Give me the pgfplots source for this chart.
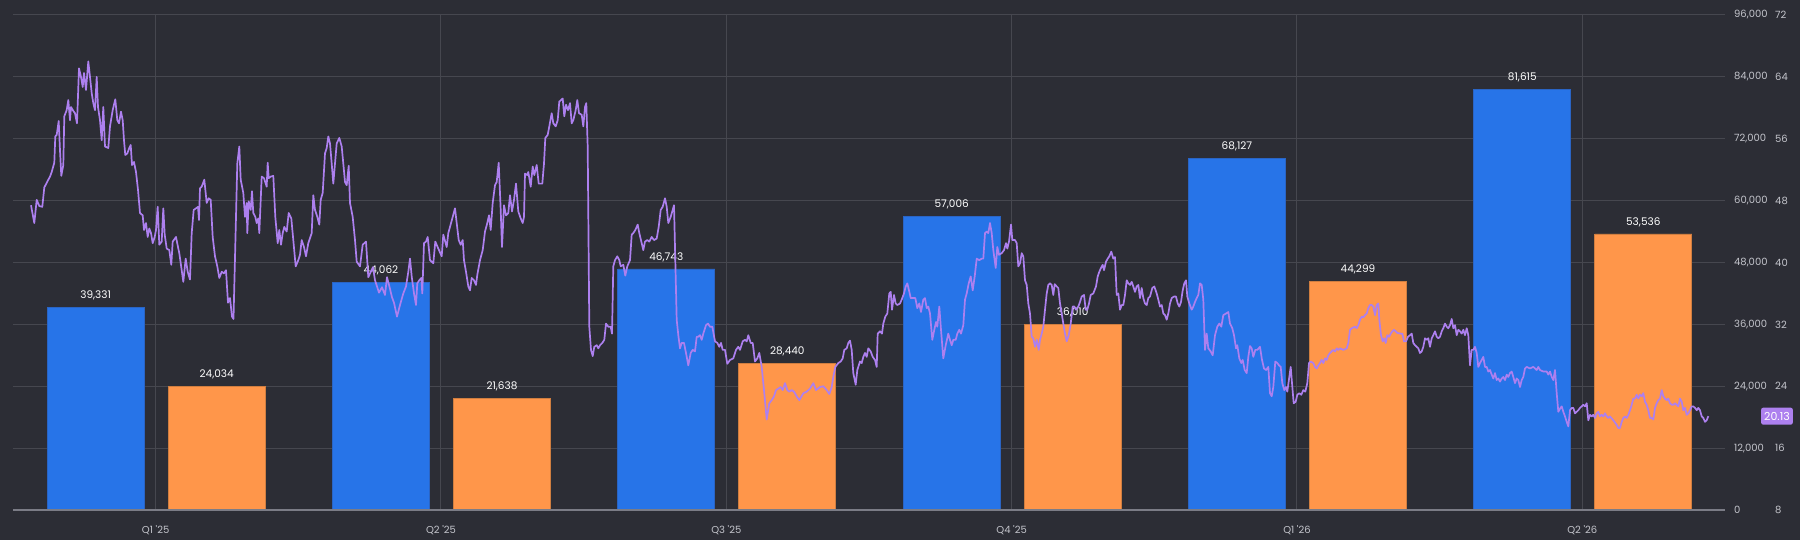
\documentclass[border=0pt]{standalone}
\usepackage{fontspec}
\setmainfont{Poppins}
\usepackage{pgfplots}
\usepackage{pgfplotstable}
\pgfplotsset{compat=1.18}

\definecolor{bg}{HTML}{2C2D35}
\definecolor{gridcol}{HTML}{46474F}
\definecolor{tickcol}{HTML}{C4C5CC}
\definecolor{basecol}{HTML}{7B7C86}
\definecolor{barblue}{HTML}{2774E8}
\definecolor{blueedge}{HTML}{2A64C4}
\definecolor{barorange}{HTML}{FF964A}
\definecolor{orangeedge}{HTML}{D07E40}
\definecolor{ratiopurple}{HTML}{AD80EF}

\pgfkeys{/pgf/number format/assume math mode=true}

% quarterly bars (left scale)
\pgfplotstableread{
q blue orange
0 39331 24034
1 44062 21638
2 46743 28440
3 57006 36010
4 68127 44299
5 81615 53536
}\quarters

% daily line (right scale), x = position along the time axis
\pgfplotstableread[row sep=\\]{
x v\\
31 47.4\\ 34.3 45.1\\ 36.7 48.1\\ 39.3 47.3\\ 42.3 47.2\\ 44.3 49.7\\ 48.3 50.7\\ 50 51.1\\ 51.7 51.7\\ 54.3 52.9\\
55.3 56.3\\ 56.7 56.5\\ 58.7 58.3\\ 60 54.5\\ 61.3 51.2\\ 63.3 52.6\\ 64.3 58.9\\ 66.7 59.7\\ 68.3 61.0\\ 70 58.4\\
71 60.1\\ 73.3 59.6\\ 75 59.3\\ 77 58.0\\ 79 65.1\\ 81 64.0\\ 82.7 62.7\\ 84 64.5\\ 86 62.3\\ 88.3 66.0\\
90 64.0\\ 91.7 61.9\\ 93.3 60.6\\ 95 59.7\\ 96.7 64.0\\ 98 60.1\\ 100 58.4\\ 101.7 55.8\\ 103.3 60.1\\ 105 55.0\\
108.3 54.8\\ 110 57.6\\ 112.7 59.7\\ 115.3 61.1\\ 117.3 58.4\\ 119 58.0\\ 121 59.5\\ 122.7 58.4\\ 124 55.8\\ 125.3 53.9\\
127.3 54.1\\ 129.3 54.8\\ 130.7 55.2\\ 132 52.6\\ 134 53.0\\ 136 51.7\\ 138 49.4\\ 140 46.4\\ 142.7 46.1\\ 144 44.2\\
146 45.1\\ 147.7 43.3\\ 149.3 44.4\\ 151 43.8\\ 152.7 42.5\\ 154.7 43.3\\ 156 44.2\\ 157.7 47.2\\ 159.3 42.3\\ 161.7 42.7\\
163.3 47.0\\ 164.7 43.6\\ 166.7 41.8\\ 169.3 41.6\\ 171.3 39.7\\ 172.7 42.7\\ 176 43.3\\ 178 42.0\\ 179.3 41.2\\ 181.7 39.0\\
183.3 37.5\\ 185.7 40.5\\ 187.7 38.8\\ 190 37.8\\ 191.7 43.8\\ 193.7 46.8\\ 196 47.0\\ 198 47.2\\ 199 45.5\\ 200 49.6\\
201.7 49.8\\ 204.3 50.7\\ 206.7 47.7\\ 208.7 48.3\\ 210.7 48.1\\ 212.7 43.3\\ 215 40.8\\ 217.3 39.5\\ 219.3 38.0\\ 221.7 38.8\\
224 38.6\\ 226 39.0\\ 228 34.8\\ 230 35.4\\ 232 33.0\\ 233.5 32.7\\ 237.3 52.8\\ 239.3 55.0\\ 240.7 50.7\\ 243.3 49.0\\
245 45.9\\ 246.7 47.7\\ 247.3 43.8\\ 248.7 47.9\\ 250.7 46.8\\ 252 49.2\\ 253.3 46.4\\ 255.3 45.9\\ 256.7 45.1\\ 258.3 45.7\\
259.3 43.8\\ 261.7 51.1\\ 264 50.9\\ 266.7 49.8\\ 267.7 52.9\\ 268.7 50.9\\ 270.7 51.1\\ 273.3 51.2\\ 275.3 45.9\\ 277.7 42.5\\
279.3 44.2\\ 281 42.3\\ 282.7 43.8\\ 284.3 44.6\\ 286.7 44.0\\ 288.7 46.4\\ 291.3 45.7\\ 293.3 42.9\\ 295.7 39.5\\ 298.3 40.3\\
300 41.0\\ 301.7 42.9\\ 304 42.0\\ 306 40.8\\ 308.3 42.5\\ 311.7 43.8\\ 313.3 48.7\\ 315 46.8\\ 317.3 45.9\\ 319.3 44.9\\
320.7 48.1\\ 322.7 49.0\\ 325 54.1\\ 326.7 54.8\\ 328.3 56.3\\ 330 55.4\\ 331.7 52.8\\ 333.3 50.2\\ 335 52.8\\ 336.7 55.4\\
339.3 56.1\\ 341.7 55.0\\ 343.3 52.8\\ 345 50.4\\ 346.7 50.0\\ 348.7 52.5\\ 350 47.7\\ 352.7 45.9\\ 355 42.9\\ 356.7 40.1\\
360 39.5\\ 362.7 42.3\\ 366 42.7\\ 368.3 38.1\\ 373 39.4\\ 375 37.7\\ 379 36.1\\ 382 36.8\\ 385 35.8\\ 387 38.1\\
389.6 36.8\\ 392 35.5\\ 394 34.8\\ 397 33.0\\ 400 34.5\\ 403.3 36.0\\ 406 36.9\\ 408.3 38.8\\ 410 40.5\\ 411.7 38.2\\
414 36.0\\ 416 34.5\\ 417.3 37.3\\ 419.3 37.7\\ 421.3 38.0\\ 422.3 36.0\\ 424 42.5\\ 426 42.7\\ 427.7 43.3\\ 430 40.3\\
433.3 39.9\\ 435.3 42.7\\ 438.3 41.8\\ 441.7 40.8\\ 443.3 43.6\\ 446.7 42.0\\ 448.3 43.8\\ 450 44.6\\ 452.3 45.7\\ 455 47.0\\
456.7 45.1\\ 458.7 42.9\\ 460.7 42.3\\ 462.7 42.9\\ 464 40.3\\ 466 38.8\\ 468.3 36.9\\ 470 36.4\\ 471.7 38.0\\ 474 37.7\\
476 37.1\\ 477.3 38.4\\ 480 40.3\\ 482.7 41.6\\ 485 44.0\\ 487.3 45.1\\ 489 46.1\\ 490.7 44.2\\ 492.7 47.7\\ 495 50.0\\
496.7 50.4\\ 498.7 52.9\\ 500.7 46.8\\ 502 42.0\\ 504 47.4\\ 506 46.1\\ 508.3 46.4\\ 510 48.7\\ 512 46.6\\ 514 48.1\\
516 50.2\\ 518.3 46.6\\ 520.7 45.7\\ 522.7 45.1\\ 524 45.9\\ 525 51.5\\ 527.3 51.3\\ 528.3 51.7\\ 530.7 49.8\\ 532.7 52.4\\
534.3 51.3\\ 536.7 52.6\\ 538.7 50.2\\ 542.3 50.2\\ 544 52.8\\ 545.3 56.1\\ 547.7 56.5\\ 549.3 57.6\\ 551.7 59.3\\ 553.3 58.0\\
555.7 57.6\\ 557.7 58.4\\ 559.3 60.8\\ 561 61.0\\ 562.7 61.2\\ 564.3 58.9\\ 566 60.4\\ 568 59.7\\ 570 60.6\\ 571.7 58.0\\
573.3 58.4\\ 575.7 59.7\\ 577.3 61.0\\ 579 59.3\\ 581.7 59.1\\ 583.3 57.6\\ 585 60.1\\ 586.3 60.6\\ 587.7 55.0\\ 589.3 31.7\\
591 28.7\\ 592.7 27.9\\ 594.3 29.1\\ 596.7 29.3\\ 598.3 28.9\\ 600 29.3\\ 602.3 29.6\\ 604.3 30.0\\ 606 32.1\\ 608.3 31.7\\
610.7 31.7\\ 612 30.8\\ 613.3 39.5\\ 615 40.3\\ 617.3 40.8\\ 619.3 40.3\\ 620.7 39.5\\ 623.3 39.7\\ 625.3 38.3\\ 627.3 39.5\\
630 40.3\\ 631.7 43.6\\ 633.3 43.8\\ 635.3 44.2\\ 637.7 44.9\\ 639.3 43.8\\ 641.7 42.5\\ 643.3 41.6\\ 645 42.7\\ 647.3 42.9\\
649.3 42.7\\ 651.7 43.3\\ 654 42.9\\ 656.7 43.1\\ 658.7 44.6\\ 660.7 46.8\\ 662.7 47.2\\ 665 48.3\\ 666.7 47.2\\ 668.3 45.1\\
670.7 45.9\\ 672.7 46.8\\ 674 47.4\\ 675.3 40.3\\ 676.7 32.6\\ 678.3 30.6\\ 680 28.9\\ 681.7 29.6\\ 684 29.6\\ 686 28.3\\
688.3 26.7\\ 690.7 28.3\\ 692.7 28.7\\ 695 28.5\\ 696.7 30.4\\ 698.3 30.4\\ 700 30.6\\ 701.7 30.0\\ 703.3 30.8\\ 706 31.9\\
708 32.1\\ 710 31.7\\ 712.3 31.7\\ 715 29.8\\ 717.3 29.6\\ 719.3 29.1\\ 721 29.6\\ 722.7 28.7\\ 725 28.7\\ 727.3 26.9\\
730 27.4\\ 733.3 27.6\\ 736 28.7\\ 738.3 29.1\\ 740 28.7\\ 742.7 29.8\\ 745 30.0\\ 746.7 29.8\\ 748.3 30.6\\ 750.7 29.6\\
752.7 29.6\\ 755 27.2\\ 757.3 27.6\\ 759.3 28.3\\ 761.7 26.5\\ 764 23.5\\ 766.7 19.7\\ 769.3 21.8\\ 771.7 22.2\\ 774 22.7\\
776 23.5\\ 778.3 23.7\\ 780.7 23.9\\ 782.7 23.5\\ 785 24.4\\ 787.3 23.5\\ 789.3 23.3\\ 791.7 23.5\\ 794 23.3\\ 796.7 22.7\\
799.3 22.2\\ 803.3 23.1\\ 806.7 23.3\\ 810 23.7\\ 813.3 24.4\\ 816 23.5\\ 820 23.9\\ 823.3 24.0\\ 826.7 23.5\\ 829.3 23.0\\
831.7 23.9\\ 833.3 25.2\\ 835.3 26.5\\ 838.3 27.0\\ 840.7 27.2\\ 842.7 27.6\\ 844.3 28.7\\ 846.7 28.9\\ 848.3 29.6\\ 850 29.9\\
851.7 28.7\\ 853.3 25.7\\ 855.7 24.2\\ 857.3 26.1\\ 860 27.2\\ 861.7 27.0\\ 863.3 27.8\\ 865 28.3\\ 866.7 27.8\\ 868.3 28.9\\
870.7 28.5\\ 872.7 27.8\\ 875 27.4\\ 876.7 26.5\\ 877.7 30.8\\ 880 31.1\\ 882 30.8\\ 883.3 32.1\\ 885.3 33.0\\ 887.3 33.4\\
889.3 36.0\\ 890.7 36.2\\ 892 33.9\\ 894 35.8\\ 895.7 34.7\\ 897.3 34.5\\ 900 34.7\\ 901.7 35.2\\ 904 36.0\\ 905.7 36.9\\
907.3 37.3\\ 909 36.4\\ 910.7 35.4\\ 913.3 35.4\\ 915.3 35.4\\ 917.3 34.1\\ 919.3 34.7\\ 921 33.6\\ 923.3 35.2\\ 925 35.4\\
926.7 34.1\\ 928.3 34.3\\ 930 33.4\\ 932.3 30.0\\ 934.3 31.3\\ 936 32.3\\ 937.3 31.7\\ 939.3 34.3\\ 941 31.3\\ 943.3 27.6\\
945.7 29.3\\ 948.3 30.8\\ 950 30.0\\ 951.7 29.3\\ 953.3 30.0\\ 955.7 30.0\\ 957.3 30.8\\ 959.3 31.3\\ 961 30.8\\ 963.3 31.9\\
965 35.2\\ 966.7 36.0\\ 968.7 37.3\\ 970.7 38.2\\ 972.7 36.4\\ 974.7 38.2\\ 976.7 40.5\\ 979.3 40.3\\ 981.7 40.5\\ 983.3 40.5\\
985 43.8\\ 986.7 44.0\\ 988.3 43.8\\ 990 45.1\\ 991.7 43.8\\ 993.3 41.6\\ 995.7 39.3\\ 997.3 42.0\\ 999 41.0\\ 1001.7 41.2\\
1004 41.6\\ 1006 42.5\\ 1007.3 41.8\\ 1009 42.7\\ 1011 44.9\\ 1012.3 42.9\\ 1015 42.9\\ 1016.7 42.5\\ 1018.3 39.5\\ 1020 39.9\\
1021.7 41.2\\ 1023.3 40.8\\ 1025 37.7\\ 1026.7 37.1\\ 1028.3 34.7\\ 1030 33.4\\ 1031.7 30.4\\ 1033.3 30.2\\ 1035 29.1\\ 1036.7 30.0\\
1038.7 28.7\\ 1040 30.0\\ 1041.7 30.8\\ 1043.3 31.7\\ 1045 33.9\\ 1046.7 36.0\\ 1048.3 37.1\\ 1050 37.3\\ 1051.7 37.1\\ 1053.3 35.8\\
1054.7 37.2\\ 1056.7 36.9\\ 1058.3 36.7\\ 1060 34.7\\ 1061.7 33.4\\ 1063.3 32.1\\ 1065 30.8\\ 1066.7 29.8\\ 1068.7 30.6\\ 1070.7 32.1\\
1072.7 34.3\\ 1074.3 34.3\\ 1076 33.9\\ 1078.3 34.3\\ 1080 34.9\\ 1081.7 35.6\\ 1084 35.8\\ 1085.7 33.9\\ 1087.3 33.9\\ 1089 34.7\\
1090.7 35.8\\ 1093.3 36.0\\ 1096 36.9\\ 1097.7 38.2\\ 1099.3 38.8\\ 1101 39.3\\ 1102.7 39.7\\ 1104 39.0\\ 1106 40.1\\ 1107.7 40.5\\
1109.3 40.8\\ 1111.3 41.4\\ 1113.3 40.5\\ 1115 40.7\\ 1116.7 35.8\\ 1118.3 36.0\\ 1120 33.9\\ 1121.7 34.5\\ 1123.3 34.5\\ 1125 35.8\\
1126.7 37.7\\ 1128.3 37.3\\ 1130 37.1\\ 1131.7 37.5\\ 1133.3 36.9\\ 1135 36.2\\ 1136.7 36.9\\ 1138.3 37.1\\ 1140 35.4\\ 1141.7 36.7\\
1143.3 35.4\\ 1145 34.7\\ 1146.7 34.5\\ 1148.3 35.4\\ 1150 35.6\\ 1152.3 36.7\\ 1154.3 36.9\\ 1156.7 36.0\\ 1158.3 35.2\\ 1160 34.3\\
1161.7 34.5\\ 1163.3 33.4\\ 1165 33.2\\ 1166.7 32.6\\ 1168.3 33.4\\ 1170 34.7\\ 1171.7 35.4\\ 1174 35.6\\ 1176 35.6\\ 1177.7 34.7\\
1179.3 34.3\\ 1181 34.9\\ 1182.7 36.4\\ 1184.3 37.3\\ 1186 37.7\\ 1187.3 35.6\\ 1189.3 34.7\\ 1191.7 33.9\\ 1193.3 34.3\\ 1195 34.9\\
1196.7 35.4\\ 1198.3 35.8\\ 1200 37.3\\ 1201.7 37.1\\ 1203.3 35.2\\ 1205 28.7\\ 1206.7 30.8\\ 1208.3 28.9\\ 1210.7 28.5\\ 1212.7 28.0\\
1215 30.6\\ 1217.3 31.7\\ 1219.3 32.1\\ 1221.3 31.7\\ 1223.3 33.2\\ 1226 33.4\\ 1228.3 33.6\\ 1230 32.1\\ 1232.3 31.5\\ 1234 30.6\\
1236 28.9\\ 1237.3 29.3\\ 1239.3 27.6\\ 1241.3 27.0\\ 1242.7 27.4\\ 1244.7 26.1\\ 1246.7 25.7\\ 1248.3 27.8\\ 1250 29.2\\ 1251.7 28.9\\
1253.3 27.8\\ 1255.3 28.7\\ 1257.3 28.7\\ 1260 29.1\\ 1262 27.4\\ 1264 26.3\\ 1266 26.1\\ 1268.3 26.5\\ 1270 23.1\\ 1271.7 22.7\\
1273.3 23.9\\ 1275.3 27.2\\ 1277.3 27.0\\ 1279 26.7\\ 1280.7 26.5\\ 1282.3 24.4\\ 1284.3 23.5\\ 1286 23.9\\ 1287.3 23.3\\ 1289.3 25.2\\
1290.7 26.5\\ 1292 24.4\\ 1293.7 21.8\\ 1295.7 22.0\\ 1297.3 22.9\\ 1299.3 23.1\\ 1301.3 22.9\\ 1303.3 23.5\\ 1305.3 23.3\\ 1307.3 24.4\\
1309 27.0\\ 1310.7 27.2\\ 1313.3 27.0\\ 1315 26.5\\ 1316.7 26.3\\ 1318.3 26.7\\ 1320 27.0\\ 1321.7 27.4\\ 1323.3 27.0\\ 1325 27.6\\
1326.7 27.4\\ 1328.3 28.0\\ 1330 28.3\\ 1331.7 28.5\\ 1333.3 28.7\\ 1335 28.5\\ 1336.7 28.9\\ 1338.3 28.7\\ 1340 28.9\\ 1343.3 28.7\\
1346.7 28.9\\ 1348.3 29.6\\ 1350 31.3\\ 1351.7 31.5\\ 1355 31.7\\ 1356.7 31.5\\ 1358.3 31.9\\ 1360 32.6\\ 1361.7 33.0\\ 1363.3 32.9\\
1365 33.2\\ 1366.7 33.4\\ 1368.3 34.1\\ 1370 34.5\\ 1371.7 34.5\\ 1373.3 34.3\\ 1375 33.2\\ 1376.7 34.5\\ 1378.3 34.7\\ 1379.3 32.6\\
1381 30.6\\ 1382.7 29.8\\ 1384.3 30.2\\ 1385.7 29.6\\ 1387.3 30.6\\ 1389 30.4\\ 1390.7 30.8\\ 1392.3 31.1\\ 1394 31.3\\ 1397.3 30.9\\
1400.7 30.8\\ 1402.3 30.8\\ 1404 29.8\\ 1406 29.8\\ 1408 30.4\\ 1410 30.6\\ 1411.7 30.8\\ 1413.3 29.6\\ 1415 29.3\\ 1416.7 29.1\\
1418.3 28.9\\ 1420 28.3\\ 1421.7 28.5\\ 1423.3 29.1\\ 1425 30.2\\ 1426.7 30.0\\ 1428.3 30.2\\ 1430 29.1\\ 1431.7 30.2\\ 1433.3 30.6\\
1435 31.1\\ 1436.7 30.4\\ 1438.3 30.2\\ 1440 30.4\\ 1441.7 31.1\\ 1443.3 31.5\\ 1445 32.1\\ 1446.7 31.7\\ 1448.3 31.5\\ 1450 31.9\\
1451.7 32.7\\ 1453.3 31.5\\ 1455 31.9\\ 1456.7 30.6\\ 1458.3 31.3\\ 1460 31.1\\ 1461.7 30.8\\ 1463.3 31.3\\ 1465 30.6\\ 1466.7 31.5\\
1468.3 30.6\\ 1470 26.7\\ 1471.7 28.7\\ 1473.3 28.7\\ 1475 29.1\\ 1476.7 28.3\\ 1478.3 26.5\\ 1480 27.0\\ 1481.7 27.4\\ 1483.3 27.8\\
1485 26.5\\ 1486.7 26.5\\ 1488.3 25.9\\ 1490 26.1\\ 1491.7 25.5\\ 1493.3 25.0\\ 1495 25.7\\ 1496.7 24.8\\ 1498.3 25.0\\ 1500 24.6\\
1501.7 25.0\\ 1503.3 25.2\\ 1505 24.8\\ 1506.7 25.5\\ 1508.3 25.2\\ 1510 25.7\\ 1511.7 25.9\\ 1513.3 25.2\\ 1515 24.4\\ 1516.7 25.0\\
1518.3 24.8\\ 1520 23.9\\ 1521.7 24.8\\ 1523.3 25.2\\ 1525 26.3\\ 1526.7 26.5\\ 1530 26.3\\ 1533.3 26.5\\ 1536.7 26.1\\ 1538.3 26.5\\
1540 26.1\\ 1543.3 25.9\\ 1546.7 25.9\\ 1548.3 25.5\\ 1550 25.9\\ 1551.7 25.2\\ 1553.3 24.8\\ 1555 26.1\\ 1556.7 23.1\\ 1558.3 20.7\\
1560 21.1\\ 1561.7 21.4\\ 1563.3 20.7\\ 1565 20.1\\ 1566.7 19.4\\ 1568.3 18.8\\ 1570 20.9\\ 1571.7 21.2\\ 1573.3 21.2\\ 1575 20.5\\
1576.7 20.7\\ 1578.3 20.9\\ 1580 21.2\\ 1581.7 21.4\\ 1583.3 21.6\\ 1585 21.4\\ 1586.7 21.8\\ 1588.3 19.6\\ 1590 20.3\\ 1591.7 20.1\\
1593.3 20.3\\ 1595 19.9\\ 1596.7 20.5\\ 1598.3 20.7\\ 1600 20.1\\ 1601.7 20.3\\ 1603.3 20.1\\ 1605 20.5\\ 1606.7 20.1\\ 1608.3 19.9\\
1610 20.1\\ 1613.3 19.6\\ 1616.7 19.0\\ 1618.3 18.6\\ 1620 18.6\\ 1621.7 19.4\\ 1623.3 19.9\\ 1625 20.1\\ 1626.7 19.9\\ 1628.3 20.3\\
1630 20.9\\ 1631.7 21.6\\ 1633.3 22.4\\ 1635 22.4\\ 1636.7 22.9\\ 1638.3 22.4\\ 1640 22.9\\ 1641.7 22.7\\ 1643.3 23.1\\ 1645 22.0\\
1646.7 21.6\\ 1648.3 20.9\\ 1650 19.9\\ 1651.7 19.9\\ 1653.3 19.7\\ 1655 21.2\\ 1656.7 21.8\\ 1658.3 22.2\\ 1660 22.4\\ 1661.7 23.5\\
1663.3 22.7\\ 1665 22.4\\ 1666.7 22.2\\ 1668.3 22.4\\ 1670 21.8\\ 1671.7 21.6\\ 1673.3 21.6\\ 1675 21.8\\ 1676.7 21.6\\ 1678.3 21.4\\
1680 22.4\\ 1681.7 22.0\\ 1683.3 20.9\\ 1685 21.2\\ 1686.7 20.3\\ 1688.3 20.5\\ 1690 20.9\\ 1691.7 21.4\\ 1693.3 21.4\\ 1695 21.2\\
1696.7 20.9\\ 1698.3 21.2\\ 1700 20.9\\ 1701.7 20.1\\ 1703.3 19.9\\ 1705 19.4\\ 1706.7 19.6\\ 1708.3 20.13\\
}\ratio

\begin{document}
\begin{tikzpicture}
\fill[bg] (-13pt,-30pt) rectangle (1787pt,510pt);
\path[use as bounding box] (-13pt,-30pt) rectangle (1787pt,510pt);

\begin{axis}[
  at={(0pt,0pt)}, anchor=south west,
  scale only axis, width=1712pt, height=495pt,
  xmin=-0.5, xmax=5.5, ymin=0, ymax=96000,
  axis line style={draw=none},
  major tick style={draw=none},
  xtick={0,1,2,3,4,5},
  xticklabels={Q1 \textquotesingle25, Q2 \textquotesingle25, Q3 \textquotesingle25, Q4 \textquotesingle25, Q1 \textquotesingle26, Q2 \textquotesingle26},
  xticklabel style={font=\fontsize{10}{12}\selectfont, color=tickcol, inner sep=0pt, anchor=north, yshift=-11pt},
  ytick={0,12000,...,96000},
  scaled y ticks=false,
  yticklabel pos=right,
  yticklabel style={font=\fontsize{10}{12}\selectfont, color=tickcol, inner sep=0pt, anchor=west, xshift=9pt,
    /pgf/number format/1000 sep={,}},
  grid=major,
  major grid style={gridcol, line width=1pt},
  ybar, bar width=97pt,
  nodes near coords={\pgfmathprintnumber[fixed, precision=0, 1000 sep={,}]{\pgfplotspointmeta}},
  every node near coord/.append style={font=\fontsize{10.5}{12}\selectfont, color=white, inner sep=0pt, anchor=south, yshift=7pt},
  clip=false,
]
\addplot[fill=barblue, draw=blueedge, line width=0.8pt, bar shift=-60pt] table[x=q, y=blue] {\quarters};
\addplot[fill=barorange, draw=orangeedge, line width=0.8pt, bar shift=61pt] table[x=q, y=orange] {\quarters};
\draw[basecol, line width=2pt] (axis cs:-0.5,0) -- (axis cs:5.5,0);
\end{axis}

\begin{axis}[
  at={(0pt,0pt)}, anchor=south west,
  scale only axis, width=1712pt, height=495pt,
  xmin=13, xmax=1725, ymin=8, ymax=72,
  axis line style={draw=none},
  major tick style={draw=none},
  xtick=\empty,
  ytick={8,16,...,72},
  yticklabel pos=right,
  yticklabel style={font=\fontsize{10}{12}\selectfont, color=tickcol, inner sep=0pt, anchor=west, xshift=50pt},
  clip=false,
]
\addplot[ratiopurple, line width=1.7pt, line join=round, mark=none] table[x=x, y=v] {\ratio};
\node[fill=ratiopurple, rounded corners=2pt, text=white, font=\fontsize{11}{12}\selectfont,
  inner xsep=3pt, inner ysep=0pt, minimum height=17pt, anchor=west]
  at ([xshift=36pt]axis cs:1725,20.13) {20.13};
\end{axis}
\end{tikzpicture}
\end{document}
